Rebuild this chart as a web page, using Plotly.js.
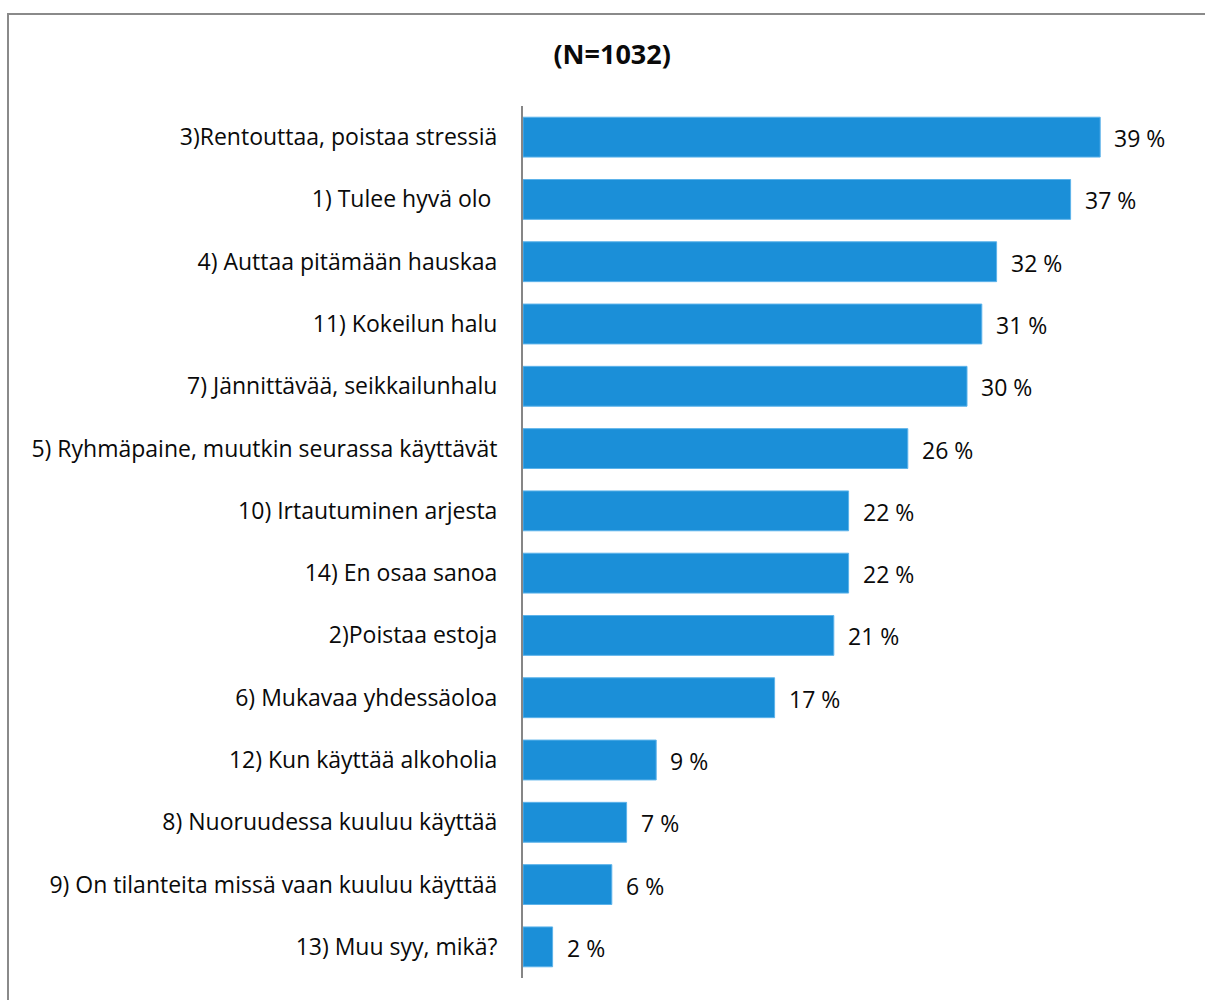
<!DOCTYPE html>
<html><head><meta charset="utf-8">
<script src="https://cdn.plot.ly/plotly-3.0.1.min.js"></script>
<style>body{margin:0;overflow:hidden;background:#fff}#chart{width:1205px;height:1000px}</style>
</head><body><div id="chart"></div>
<script>
const categories = [
  "3)Rentouttaa, poistaa stressiä",
  "1) Tulee hyvä olo ",
  "4) Auttaa pitämään hauskaa",
  "11) Kokeilun halu",
  "7) Jännittävää, seikkailunhalu",
  "5) Ryhmäpaine, muutkin seurassa käyttävät",
  "10) Irtautuminen arjesta",
  "14) En osaa sanoa",
  "2)Poistaa estoja",
  "6) Mukavaa yhdessäoloa",
  "12) Kun käyttää alkoholia",
  "8) Nuoruudessa kuuluu käyttää",
  "9) On tilanteita missä vaan kuuluu käyttää",
  "13) Muu syy, mikä?"
];
const values = [39, 37, 32, 31, 30, 26, 22, 22, 21, 17, 9, 7, 6, 2];
const valueLabels = values.map(v => v + " %");
const chartTitle = "(N=1032)";

const font = "Open Sans, Noto Sans, sans-serif";
const trace = {
  type: "bar", orientation: "h",
  x: values, y: categories,
  marker: {color: "#1B8FD8", line: {color: "#5DB3EA", width: 1}},
  hoverinfo: "skip"
};
const annotations = values.map((v, i) => ({
  x: v, y: categories[i], xref: "x", yref: "y",
  text: valueLabels[i], showarrow: false, xanchor: "left", xshift: 12, yshift: -1,
  font: {family: font, size: 23, color: "#0a0a0a"}
}));
const W = 666, H = 872;
const layout = {
  width: 1205, height: 1000,
  margin: {l: 523, r: 16, t: 106, b: 22},
  paper_bgcolor: "#fff", plot_bgcolor: "#fff",
  showlegend: false,
  bargap: 0.36,
  title: {text: "<b>" + chartTitle + "</b>", x: 0.508, xref: "container", y: 0.945, yref: "container", yanchor: "middle",
          font: {family: font, size: 27, color: "#0a0a0a"}},
  xaxis: {range: [0, 45], showgrid: false, zeroline: false, showticklabels: false, showline: false, fixedrange: true},
  yaxis: {autorange: "reversed", showline: true, linecolor: "#868686", linewidth: 2, ticks: "",
          ticklabelstandoff: 19, tickfont: {family: font, size: 23, color: "#0a0a0a"}, fixedrange: true},
  annotations: annotations,
  shapes: [{type: "rect", xref: "paper", yref: "paper",
            x0: (8 - 523) / W, x1: (1230 - 523) / W,
            y0: (978 - 1030) / H, y1: (978 - 14) / H,
            line: {color: "#8a8a8a", width: 2}, fillcolor: "rgba(0,0,0,0)", layer: "below"}]
};
Plotly.newPlot("chart", [trace], layout, {displayModeBar: false, staticPlot: true});
</script></body></html>
